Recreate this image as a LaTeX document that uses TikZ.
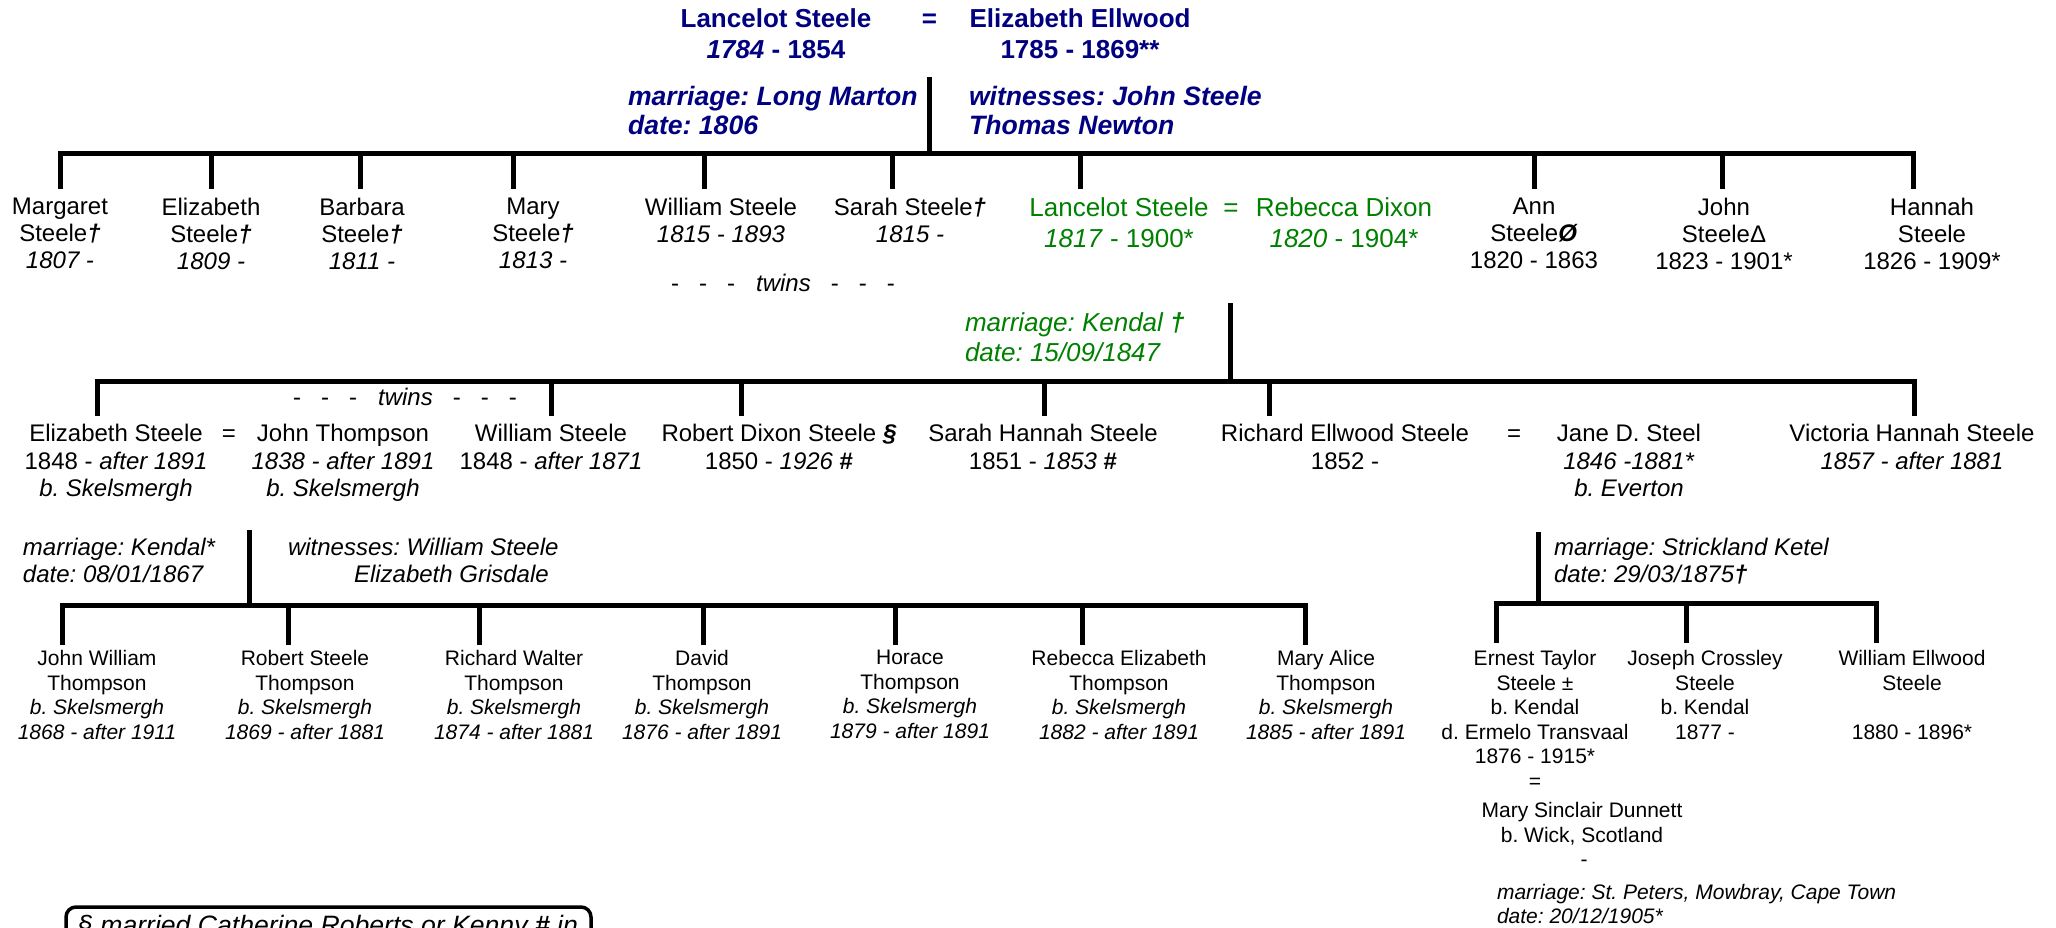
\documentclass[tikz,border=0pt]{standalone}
\usepackage{fontspec}
\setmainfont{Liberation Sans}
\frenchspacing
\definecolor{navy}{RGB}{0,0,128}
\definecolor{dgreen}{RGB}{0,128,0}
\newcommand{\mydag}{\textbf{\textit{†}}}
\tikzset{
  tree/.style={line width=5pt, line cap=butt, line join=miter},
  ppl/.style={inner sep=0pt, outer sep=0pt, align=center, anchor=north},
  sA/.style={ppl, font=\fontsize{24}{27}\selectfont},
  sB/.style={ppl, font=\fontsize{24}{27.5}\selectfont},
  sC/.style={ppl, font=\fontsize{21}{24.5}\selectfont},
  sTop/.style={ppl, text=navy, font=\fontsize{26}{31}\selectfont\bfseries},
  sGreen/.style={ppl, text=dgreen, font=\fontsize{26}{31}\selectfont},
  note/.style={inner sep=0pt, outer sep=0pt, align=left, anchor=north west},
  eqs/.style={inner sep=0pt, outer sep=0pt, anchor=base},
}
\begin{document}
\begin{tikzpicture}[x=1pt,y=-1pt]
\useasboundingbox (0,0) rectangle (2056,927);
\clip (0,0) rectangle (2056,927);

% ---------- generation 1 ----------
\node[sTop] (ls) at (776,9.1) {Lancelot Steele\\\textit{1784} - 1854};
\node[eqs, text=navy, font=\fontsize{26}{31}\selectfont\bfseries] (eqtop) at (929.5,27.9) {=};
\node[sTop] (ee) at (1080,9.1) {Elizabeth Ellwood\\1785 - 1869**};
\node[note, text=navy, font=\fontsize{26.6}{29.5}\selectfont\bfseries\itshape] (mtop) at (628,86) {marriage: Long Marton\\date: 1806};
\node[note, text=navy, font=\fontsize{26.6}{29.5}\selectfont\bfseries\itshape] (wtop) at (969,86) {witnesses: John Steele\\Thomas Newton};

\coordinate (pA) at (929.5,77);
\coordinate (pAb) at (929.5,153);
\draw[tree] (pA) -- (pAb);
\foreach \x [count=\i] in {60,211,360,513,704,892,1080,1534,1722,1913} {
  \coordinate (at\i) at (\x,153);
  \coordinate (a\i) at (\x,189);
}
\draw[tree] (a1) -- (at1) -- (at10) -- (a10);
\foreach \i in {2,...,9} \draw[tree] (at\i) -- (a\i);

% ---------- generation 2 ----------
\node[sA] (c1) at (60,198.4) {Margaret\\Steele\mydag\\\textit{1807 -}};
\node[sA] (c2) at (211,198.4) {Elizabeth\\Steele\mydag\\\textit{1809 -}};
\node[sA] (c3) at (362,198.4) {Barbara\\Steele\mydag\\\textit{1811 -}};
\node[sA] (c4) at (533,198.4) {Mary\\Steele\mydag\\\textit{1813 -}};
\node[sA] (c5) at (721,198.4) {William Steele\\\textit{1815 - 1893}};
\node[sA] (c6) at (910,198.4) {Sarah Steele\mydag\\\textit{1815 -}};
\node[sGreen] (c7) at (1119,197.6) {Lancelot Steele\\\textit{1817} - 1900*};
\node[eqs, text=dgreen, font=\fontsize{26}{31}\selectfont] (eqg) at (1231,216.4) {=};
\node[sGreen] (c7w) at (1344,197.6) {Rebecca Dixon\\\textit{1820} - 1904*};
\node[sA] (c8) at (1534,198.4) {Ann\\Steele\textbf{\textit{Ø}}\\1820 - 1863};
\node[sA] (c9) at (1724,198.4) {John\\SteeleΔ\\1823 - 1901*};
\node[sA] (c10) at (1932,198.4) {Hannah\\Steele\\1826 - 1909*};
\node[eqs, font=\fontsize{24}{27}\selectfont] (tw1) at (783,291.6)
  {-\hspace{20pt}-\hspace{20pt}-\hspace{21pt}\textit{twins}\hspace{20pt}-\hspace{20pt}-\hspace{20pt}-};

\node[note, text=dgreen, font=\fontsize{26}{30}\selectfont\itshape] (mg) at (965,312.6) {marriage: Kendal \textbf{†}\\date: 15/09/1847};

\coordinate (pB) at (1230,303);
\coordinate (pBb) at (1230,381);
\draw[tree] (pB) -- (pBb);
\foreach \x [count=\i] in {97,551,741,1044,1269,1914} {
  \coordinate (bt\i) at (\x,381);
  \coordinate (b\i) at (\x,416);
}
\draw[tree] (b1) -- (bt1) -- (bt6) -- (b6);
\foreach \i in {2,...,5} \draw[tree] (bt\i) -- (b\i);

% ---------- generation 3 ----------
\node[eqs, font=\fontsize{24}{27}\selectfont] (tw2) at (405,405.6)
  {-\hspace{20pt}-\hspace{20pt}-\hspace{21pt}\textit{twins}\hspace{20pt}-\hspace{20pt}-\hspace{20pt}-};
\node[sB] (d1) at (116,424.4) {Elizabeth Steele\\1848 - \textit{after 1891}\\\textit{b. Skelsmergh}};
\node[eqs, font=\fontsize{24}{27}\selectfont] (eqd1) at (229,441.6) {=};
\node[sB] (d1w) at (343,424.4) {John Thompson\\\textit{1838 - after 1891}\\\textit{b. Skelsmergh}};
\node[sB] (d2) at (551,424.4) {William Steele\\1848 - \textit{after 1871}};
\node[sB] (d3) at (779,424.4) {Robert Dixon Steele \textbf{\textit{§}}\\1850 - \textit{1926} \textbf{\#}};
\node[sB] (d4) at (1043,424.4) {Sarah Hannah Steele\\1851 - \textit{1853} \textbf{\#}};
\node[sB] (d5) at (1345,424.4) {Richard Ellwood Steele\\1852 -};
\node[eqs, font=\fontsize{24}{27}\selectfont] (eqd2) at (1514,441.6) {=};
\node[sB] (d5w) at (1629,424.4) {Jane D. Steel\\\textit{1846 -1881*}\\\textit{b. Everton}};
\node[sB] (d6) at (1912,424.4) {Victoria Hannah Steele\\\textit{1857 - after 1881}};

\node[note, font=\fontsize{24}{27}\selectfont\itshape] (m1) at (23,538.4) {marriage: Kendal*\\date: 08/01/1867};
\node[note, font=\fontsize{24}{27}\selectfont\itshape] (w1) at (288,538.4) {witnesses: William Steele\\\hspace*{66pt}Elizabeth Grisdale};
\node[note, font=\fontsize{24}{27}\selectfont\itshape] (m2) at (1554,538.4) {marriage: Strickland Ketel\\date: 29/03/1875\textbf{†}};

\coordinate (pC) at (249,530);
\coordinate (pCb) at (249,605);
\draw[tree] (pC) -- (pCb);
\foreach \x [count=\i] in {62,288,479,703,895,1082,1305} {
  \coordinate (ct\i) at (\x,605);
  \coordinate (c\i) at (\x,645);
}
\draw[tree] (c1) -- (ct1) -- (ct7) -- (c7);
\foreach \i in {2,...,6} \draw[tree] (ct\i) -- (c\i);

\coordinate (pD) at (1538,532);
\coordinate (pDb) at (1538,603);
\draw[tree] (pD) -- (pDb);
\foreach \x [count=\i] in {1496,1686,1876} {
  \coordinate (dt\i) at (\x,603);
  \coordinate (dd\i) at (\x,643);
}
\draw[tree] (dd1) -- (dt1) -- (dt3) -- (dd3);
\draw[tree] (dt2) -- (dd2);

% ---------- generation 4 ----------
\node[sC] (e1) at (97,650.4) {John William\\Thompson\\\textit{b. Skelsmergh}\\\textit{1868 - after 1911}};
\node[sC] (e2) at (305,650.4) {Robert Steele\\Thompson\\\textit{b. Skelsmergh}\\\textit{1869 - after 1881}};
\node[sC] (e3) at (514,650.4) {Richard Walter\\Thompson\\\textit{b. Skelsmergh}\\\textit{1874 - after 1881}};
\node[sC] (e4) at (702,650.4) {David\\Thompson\\\textit{b. Skelsmergh}\\\textit{1876 - after 1891}};
\node[sC] (e5) at (910,650.4) {Horace\\Thompson\\\textit{b. Skelsmergh}\\\textit{1879 - after 1891}};
\node[sC] (e6) at (1119,650.4) {Rebecca Elizabeth\\Thompson\\\textit{b. Skelsmergh}\\\textit{1882 - after 1891}};
\node[sC] (e7) at (1326,650.4) {Mary Alice\\Thompson\\\textit{b. Skelsmergh}\\\textit{1885 - after 1891}};

\node[sC] (f1) at (1535,650.4) {Ernest Taylor\\Steele ±\\b. Kendal\\d. Ermelo Transvaal\\1876 - 1915*\\=};
\node[sC] (f1w) at (1582,802.4) {Mary Sinclair Dunnett\\b. Wick, Scotland};
\node[eqs, font=\fontsize{21}{24.5}\selectfont] (f1d) at (1584,866) {-};
\node[note, font=\fontsize{21}{23.5}\selectfont\itshape] (f1m) at (1497,884.4) {marriage: St. Peters, Mowbray, Cape Town\\date: 20/12/1905*};
\node[sC] (f2) at (1705,650.4) {Joseph Crossley\\Steele\\b. Kendal\\1877 -};
\node[sC] (f3) at (1912,650.4) {William Ellwood\\Steele\\~\\1880 - 1896*};

% ---------- footnote box ----------
\coordinate (kbl) at (66,960);
\coordinate (kbr) at (591,960);
\draw[line width=3.5pt, rounded corners=10pt] (kbl) -- (66,907) -- (591,907) -- (kbr);
\node[inner sep=0pt, anchor=base west, font=\fontsize{26.6}{30}\selectfont\itshape] (key) at (78,934)
  {§ married Catherine Roberts or Kenny \textbf{\#} in};
\end{tikzpicture}
\end{document}
